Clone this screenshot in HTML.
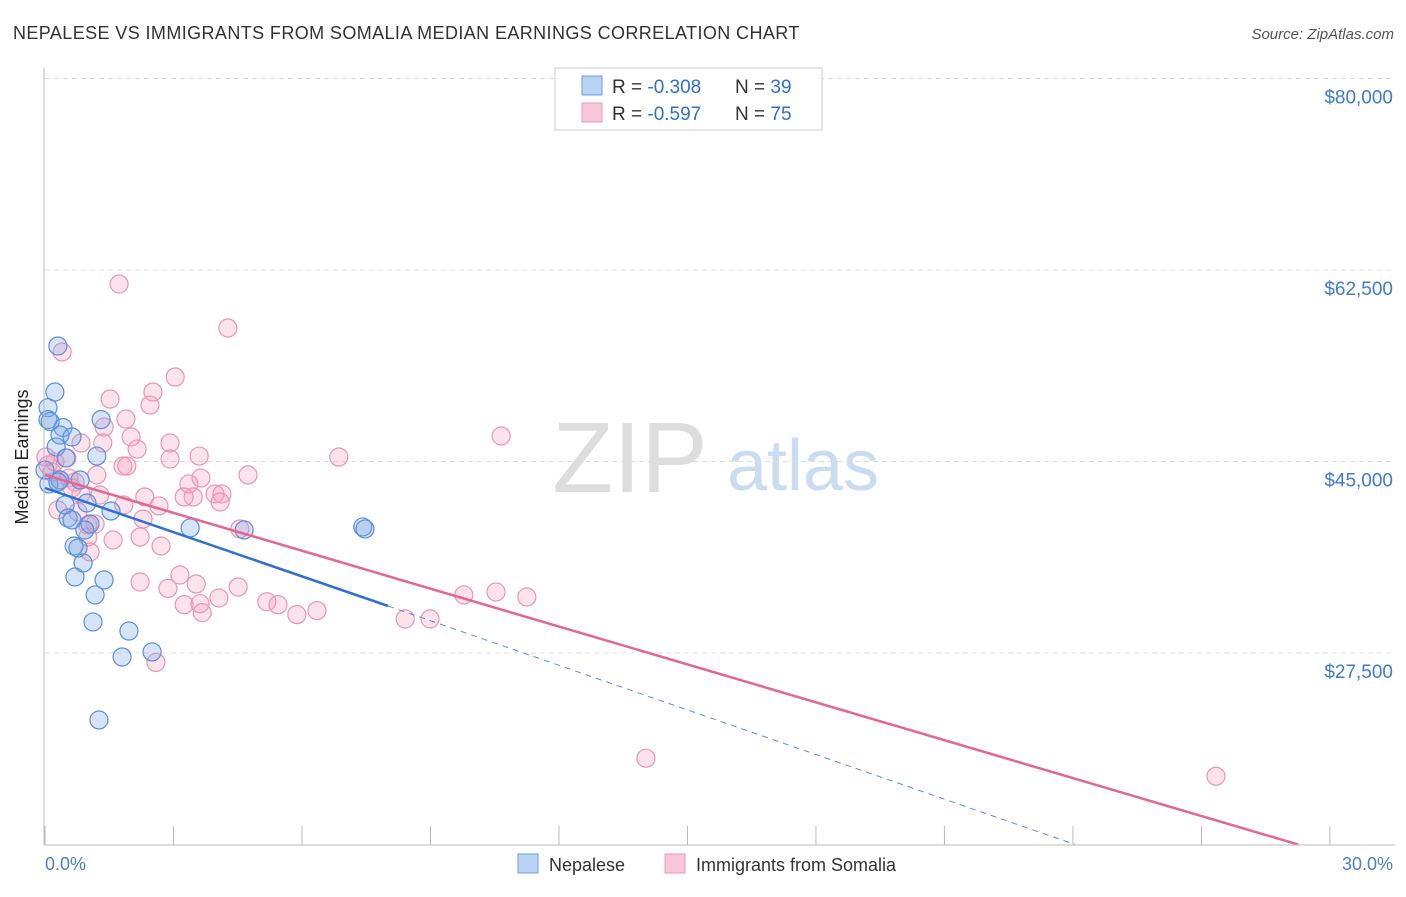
<!DOCTYPE html>
<html><head><meta charset="utf-8"><style>
body{margin:0;background:#fff;font-family:"Liberation Sans",sans-serif}
svg text{font-family:"Liberation Sans",sans-serif}
</style></head><body>
<svg id="c" width="1406" height="892">
<text x="13" y="39" font-size="18" fill="#333" letter-spacing="0.4">NEPALESE VS IMMIGRANTS FROM SOMALIA MEDIAN EARNINGS CORRELATION CHART</text>
<text x="1394" y="39" font-size="15" fill="#555" text-anchor="end" font-style="italic">Source: ZipAtlas.com</text>
<text x="630" y="492" font-size="100" fill="#ddd" text-anchor="middle" font-family="Liberation Serif">ZIP</text>
<text x="803" y="490" font-size="72" fill="#c9dcf2" text-anchor="middle">atlas</text>
<g id="grid"></g><g id="pts"></g><g id="lines"></g>
<line x1="44" y1="68" x2="44" y2="845" stroke="#bbb"/>
<line x1="44" y1="845" x2="1395" y2="845" stroke="#bbb"/>
<text x="28" y="457" font-size="18" fill="#222" text-anchor="middle" transform="rotate(-90 28 457)">Median Earnings</text>
<text x="45" y="870" font-size="18" fill="#4a7fd0">0.0%</text>
<text x="1393" y="870" font-size="18" fill="#4a7fd0" text-anchor="end">30.0%</text>
<g>
<rect x="555" y="68" width="267" height="62" fill="#fff" stroke="#ccc"/>
<rect x="582" y="76" width="20" height="19" fill="#b9d3f5" stroke="#6f9de0"/>
<rect x="582" y="103" width="20" height="19" fill="#f9c6d6" stroke="#eb9bb5"/>
<text x="612" y="93" font-size="19" fill="#333">R = <tspan fill="#2f6fd0">-0.308</tspan></text>
<text x="735" y="93" font-size="19" fill="#333">N = <tspan fill="#2f6fd0">39</tspan></text>
<text x="612" y="120" font-size="19" fill="#333">R = <tspan fill="#2f6fd0">-0.597</tspan></text>
<text x="735" y="120" font-size="19" fill="#333">N = <tspan fill="#2f6fd0">75</tspan></text>
</g>
<g>
<rect x="518" y="854" width="20" height="19" fill="#b9d3f5" stroke="#6f9de0"/>
<text x="549" y="871" font-size="18" fill="#333">Nepalese</text>
<rect x="665" y="854" width="20" height="19" fill="#f9c6d6" stroke="#eb9bb5"/>
<text x="696" y="871" font-size="18" fill="#333">Immigrants from Somalia</text>
</g>
</svg>
<script>
const yTicks=[80000,62500,45000,27500];
const yTickLabels=["$80,000","$62,500","$45,000","$27,500"];
const xTicks=[0,3,6,9,12,15,18,21,24,27,30];
const blueX=[0.30,0.23,0.07,0.07,0.12,0.42,1.31,0.35,0.63,0.26,0.49,1.21,0.09,0.35,0.82,0.47,0.98,0.54,0.63,1.05,1.54,0.93,0.68,0.77,0.89,0.70,1.38,1.17,1.12,1.96,1.80,2.50,1.26,3.39,4.65,7.42,7.47,0.30,0.0];
const blueY=[55555,51350,49920,48830,48650,48100,48830,47420,47240,46330,45320,45500,42950,43310,43310,41030,41210,39840,39660,39290,40480,38740,37280,37100,35730,34450,34180,32810,30340,29510,27140,27600,21380,38930,38750,39020,38840,43130,44220];
const pinkX=[1.73,4.27,0.40,3.04,1.52,2.52,2.45,1.89,1.38,2.15,2.01,1.35,0.84,2.92,2.92,1.82,1.91,1.21,0.23,0.51,0.35,0.07,0.16,0.70,0.84,1.28,2.33,3.60,4.74,3.64,3.36,3.97,4.13,4.09,3.25,3.46,2.66,2.29,1.84,1.00,1.17,1.00,1.05,2.22,2.71,2.87,3.15,3.25,3.53,3.62,3.67,4.06,4.51,2.22,4.55,5.18,5.44,5.88,6.35,6.86,10.65,9.78,10.53,11.25,8.41,8.99,2.59,14.03,27.34,0.02,0.30,0.77,1.59,0.56,0.63];
const pinkY=[61220,57200,55010,52720,50710,51350,50160,48880,48150,46140,47240,46690,46690,46690,45230,44590,44590,43770,44960,45320,43310,44680,44040,43130,42030,41940,41760,45500,43770,43490,42950,42030,42030,41300,41760,41760,40940,39750,41030,39200,39290,38100,36730,38100,37280,33400,34630,31920,33810,32010,31190,32530,33530,33990,38840,32190,31920,31010,31380,45410,47330,32810,33080,32620,30620,30620,26640,17890,16240,45410,40570,40390,37830,43490,42580];
const blueTrendX=[0,8.01,24.05];
const blueTrendY=[42580,31800,10000];
const pinkTrendX=[0,29.26];
const pinkTrendY=[43770,10000];
const X=v=>45+v*42.83, Y=v=>78.5+(80000-v)/91.38;
const NS="http://www.w3.org/2000/svg";
function mk(t,a,p){const e=document.createElementNS(NS,t);for(const k in a)e.setAttribute(k,a[k]);p.appendChild(e);return e;}
const grid=document.getElementById('grid');
yTicks.forEach((v,i)=>{
 const l=mk('line',{x1:45,x2:1395,y1:Y(v),y2:Y(v),stroke:'#ddd','stroke-dasharray':'5,4'},grid);
 
 
 const t=mk('text',{x:1393,y:Y(v)+25,'font-size':19,fill:'#3f7ad4','text-anchor':'end'},grid);
 t.textContent=yTickLabels[i];
 
 
});
xTicks.forEach(v=>{
 const l=mk('line',{x1:X(v),x2:X(v),y1:826,y2:845,stroke:'#bbb'},grid);
 
 
});
const pts=document.getElementById('pts');
pinkX.forEach((x,i)=>{
 const c=mk('circle',{cx:X(x),cy:Y(pinkY[i]),r:9,fill:'rgba(244,160,188,0.3)',stroke:'#eb95b2','stroke-width':1.2},pts);
 
 
});
blueX.forEach((x,i)=>{
 const c=mk('circle',{cx:X(x),cy:Y(blueY[i]),r:9,fill:'rgba(120,165,230,0.3)',stroke:'#5a8fdc','stroke-width':1.2},pts);
 
 
});
const lines=document.getElementById('lines');
let l=mk('line',{x1:X(blueTrendX[0]),y1:Y(blueTrendY[0]),x2:X(blueTrendX[1]),y2:Y(blueTrendY[1]),stroke:'#2f6fd6','stroke-width':2.5},lines);


l=mk('line',{x1:X(blueTrendX[1]),y1:Y(blueTrendY[1]),x2:X(blueTrendX[2]),y2:Y(blueTrendY[2]),stroke:'#5a8fdc','stroke-width':1,'stroke-dasharray':'6,5'},lines);


l=mk('line',{x1:X(pinkTrendX[0]),y1:Y(pinkTrendY[0]),x2:X(pinkTrendX[1]),y2:Y(pinkTrendY[1]),stroke:'#e5668f','stroke-width':2.5},lines);


</script>
</body></html>
